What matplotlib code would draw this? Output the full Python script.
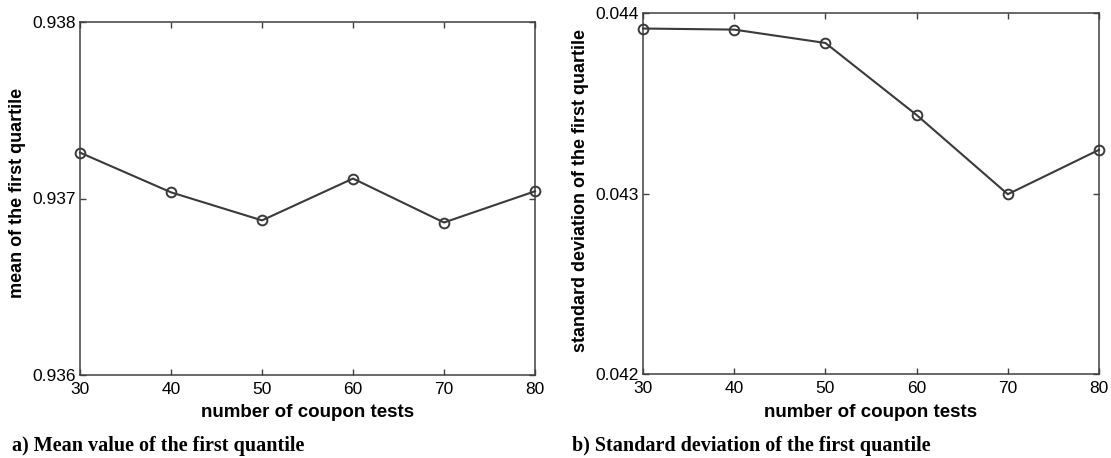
import matplotlib
matplotlib.use("Agg")
import matplotlib.pyplot as plt

# data
coupon_tests = [30, 40, 50, 60, 70, 80]
mean_q1 = [0.93726, 0.937035, 0.936876, 0.937113, 0.936864, 0.937041]
std_q1 = [0.043914, 0.043908, 0.043834, 0.043435, 0.042996, 0.043242]

mean_ticks = [0.936, 0.937, 0.938]
std_ticks = [0.042, 0.043, 0.044]

sans = ["Liberation Sans", "DejaVu Sans"]
serif = ["Liberation Serif", "DejaVu Serif"]
line_col = "#3a3a3a"

fig = plt.figure(figsize=(11.11, 4.58), dpi=100)
ax1 = fig.add_axes([80 / 1111, (458 - 375) / 458, 455 / 1111, 353 / 458])
ax2 = fig.add_axes([643 / 1111, (458 - 374) / 458, 456 / 1111, 361 / 458])


def style(ax, yvals, yticks, ylabel, ylab_y):
    ax.plot(coupon_tests, yvals, color=line_col, lw=1.5, marker="o",
            markersize=7, markerfacecolor="none", markeredgewidth=1.4,
            markeredgecolor=line_col, clip_on=False, zorder=5)
    ax.set_xlim(30, 80)
    ax.set_ylim(yticks[0], yticks[-1])
    ax.set_xticks(coupon_tests)
    ax.set_yticks(yticks)
    ax.set_yticklabels(["%.3f" % t for t in yticks])
    ax.tick_params(direction="in", length=4, width=1, color="#404040",
                   top=True, right=True, labelsize=12.5, pad=3)
    ax.tick_params(axis="x", pad=5)
    for lab in ax.get_xticklabels() + ax.get_yticklabels():
        lab.set_family(sans)
    for sp in ax.spines.values():
        sp.set_color("#404040")
        sp.set_linewidth(1.1)
    ax.set_xlabel("number of coupon tests", family=sans, fontsize=13.5,
                  fontweight="bold")
    ax.set_ylabel(ylabel, family=sans, fontsize=13, fontweight="bold")
    h = ax.get_position().height * 458
    w = ax.get_position().width * 1111
    ax.xaxis.set_label_coords(0.5, -(404 - (458 - ax.get_position().y0 * 458)) / h)
    ax.yaxis.set_label_coords(-54 / w, ylab_y)


style(ax1, mean_q1, mean_ticks, "mean of the first quartile", 0.517)
style(ax2, std_q1, std_ticks, "standard deviation of the first quartile", 0.508)

fig.text(12 / 1111, (458 - 450.5) / 458, "a) Mean value of the first quantile",
         family=serif, fontsize=14.5, fontweight="bold", va="baseline")
fig.text(572 / 1111, (458 - 450.5) / 458, "b) Standard deviation of the first quantile",
         family=serif, fontsize=14.5, fontweight="bold", va="baseline")

fig.savefig("out.png", dpi=100)
